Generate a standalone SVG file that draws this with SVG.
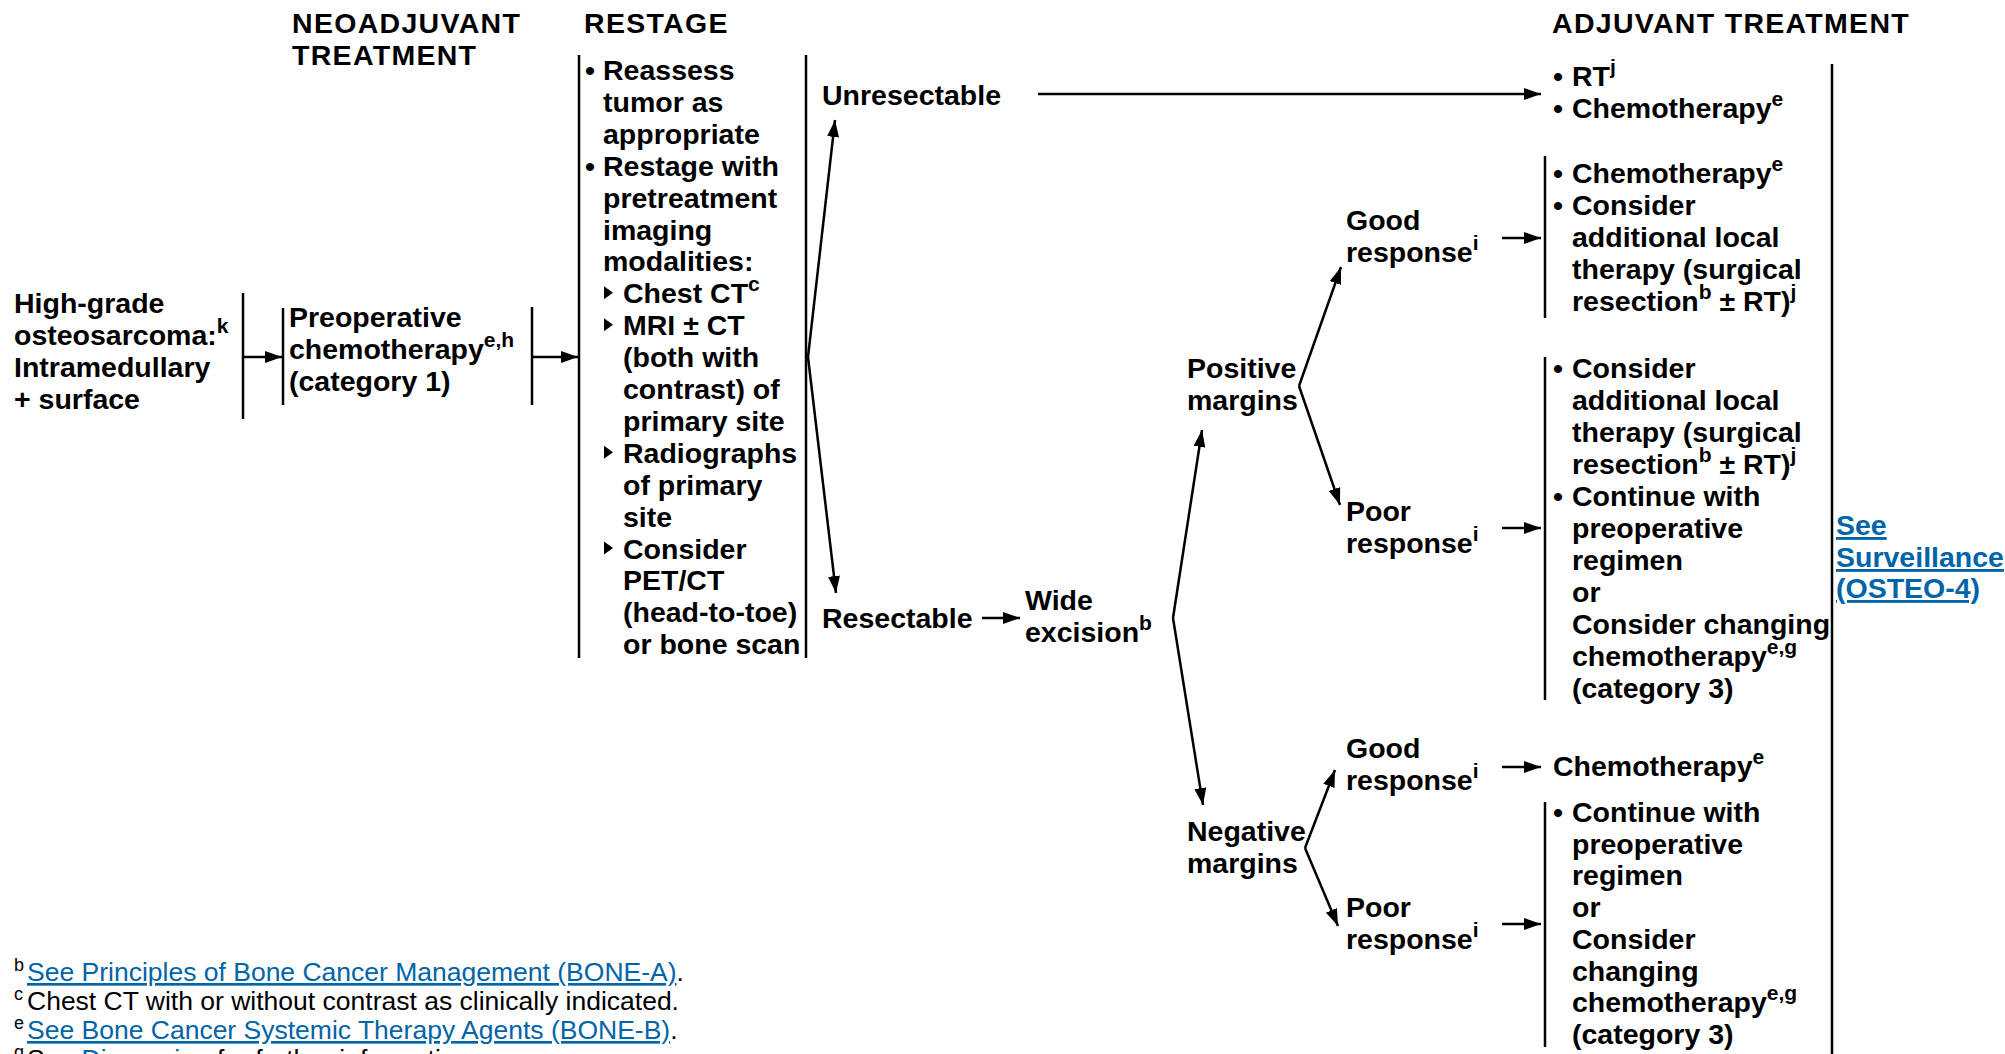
<svg xmlns="http://www.w3.org/2000/svg" width="2005" height="1054" viewBox="0 0 2005 1054">
<style>
text{font-family:"Liberation Sans",Arial,sans-serif;font-weight:bold;font-size:28.5px;fill:#000}
.h{letter-spacing:1.3px}
.sup{font-size:21px}
.fn{font-weight:normal;font-size:26.5px}
.fsup{font-size:18px}
.link{fill:#0064a8;text-decoration:underline}
.ln{stroke:#000;stroke-width:2.5;fill:none}
.arr{stroke:#000;stroke-width:2.5;fill:none;marker-end:url(#ah)}
.tri{fill:#000}
</style>
<defs>
<marker id="ah" markerUnits="userSpaceOnUse" markerWidth="17" markerHeight="12" refX="17" refY="6" orient="auto">
<path d="M0,0 L17,6 L0,12 z" fill="#000"/>
</marker>
</defs>
<rect width="2005" height="1054" fill="#fff"/>

<g id="headers">
<text class="h" x="292" y="33">NEOADJUVANT</text>
<text class="h" x="292" y="65">TREATMENT</text>
<text class="h" x="584" y="33">RESTAGE</text>
<text class="h" x="1552" y="33">ADJUVANT TREATMENT</text>
</g>

<g id="n-diagnosis">
<text><tspan x="14" y="313">High-grade</tspan><tspan x="14" y="345">osteosarcoma:<tspan class="sup" dy="-12">k</tspan></tspan><tspan x="14" y="377">Intramedullary</tspan><tspan x="14" y="409">+ surface</tspan></text>
<line class="ln" x1="243" y1="293" x2="243" y2="419"/>
</g>

<g id="n-preop">
<line class="ln" x1="283" y1="308" x2="283" y2="405"/>
<text><tspan x="289" y="327">Preoperative</tspan><tspan x="289" y="359">chemotherapy<tspan class="sup" dy="-12">e,h</tspan></tspan><tspan x="289" y="391">(category 1)</tspan></text>
<line class="ln" x1="532" y1="307" x2="532" y2="405"/>
</g>

<g id="n-restage">
<line class="ln" x1="579" y1="55" x2="579" y2="658"/>
<text>
<tspan x="585" y="80">•</tspan><tspan x="603" y="80">Reassess</tspan>
<tspan x="603" y="111.9">tumor as</tspan>
<tspan x="603" y="143.8">appropriate</tspan>
<tspan x="585" y="175.7">•</tspan><tspan x="603" y="175.7">Restage with</tspan>
<tspan x="603" y="207.6">pretreatment</tspan>
<tspan x="603" y="239.5">imaging</tspan>
<tspan x="603" y="271.4">modalities:</tspan>
<tspan x="623" y="303.3">Chest CT<tspan class="sup" dy="-12">c</tspan></tspan>
<tspan x="623" y="335.2">MRI ± CT</tspan>
<tspan x="623" y="367.1">(both with</tspan>
<tspan x="623" y="399">contrast) of</tspan>
<tspan x="623" y="430.9">primary site</tspan>
<tspan x="623" y="462.8">Radiographs</tspan>
<tspan x="623" y="494.7">of primary</tspan>
<tspan x="623" y="526.6">site</tspan>
<tspan x="623" y="558.5">Consider</tspan>
<tspan x="623" y="590.4">PET/CT</tspan>
<tspan x="623" y="622.3">(head-to-toe)</tspan>
<tspan x="623" y="654.2">or bone scan</tspan>
</text>
<polygon class="tri" points="604,286.3 613,292.8 604,299.3"/>
<polygon class="tri" points="604,318.2 613,324.7 604,331.2"/>
<polygon class="tri" points="604,445.8 613,452.3 604,458.8"/>
<polygon class="tri" points="604,541.5 613,548 604,554.5"/>
<line class="ln" x1="806" y1="55" x2="806" y2="658"/>
</g>

<g id="n-unresectable">
<text x="822" y="105">Unresectable</text>
</g>

<g id="n-resectable">
<text x="822" y="628">Resectable</text>
</g>

<g id="n-wide-excision">
<text><tspan x="1025" y="610">Wide</tspan><tspan x="1025" y="642">excision<tspan class="sup" dy="-12">b</tspan></tspan></text>
</g>

<g id="n-positive-margins">
<text><tspan x="1187" y="378">Positive</tspan><tspan x="1187" y="410">margins</tspan></text>
</g>

<g id="n-negative-margins">
<text><tspan x="1187" y="841">Negative</tspan><tspan x="1187" y="873">margins</tspan></text>
</g>

<g id="n-pos-good">
<text><tspan x="1346" y="230">Good</tspan><tspan x="1346" y="262">response<tspan class="sup" dy="-12">i</tspan></tspan></text>
</g>

<g id="n-pos-poor">
<text><tspan x="1346" y="521">Poor</tspan><tspan x="1346" y="553">response<tspan class="sup" dy="-12">i</tspan></tspan></text>
</g>

<g id="n-neg-good">
<text><tspan x="1346" y="758">Good</tspan><tspan x="1346" y="790">response<tspan class="sup" dy="-12">i</tspan></tspan></text>
</g>

<g id="n-neg-poor">
<text><tspan x="1346" y="917">Poor</tspan><tspan x="1346" y="949">response<tspan class="sup" dy="-12">i</tspan></tspan></text>
</g>

<g id="n-adj-unresectable">
<text>
<tspan x="1553" y="86">•</tspan><tspan x="1572" y="86">RT<tspan class="sup" dy="-12">j</tspan></tspan>
<tspan x="1553" y="118">•</tspan><tspan x="1572" y="118">Chemotherapy<tspan class="sup" dy="-12">e</tspan></tspan>
</text>
</g>

<g id="n-adj-pos-good">
<line class="ln" x1="1545" y1="156" x2="1545" y2="318"/>
<text>
<tspan x="1553" y="183">•</tspan><tspan x="1572" y="183">Chemotherapy<tspan class="sup" dy="-12">e</tspan></tspan>
<tspan x="1553" y="215">•</tspan><tspan x="1572" y="215">Consider</tspan>
<tspan x="1572" y="247">additional local</tspan>
<tspan x="1572" y="279">therapy (surgical</tspan>
<tspan x="1572" y="311">resection<tspan class="sup" dy="-12">b</tspan><tspan dy="12"> ± RT)</tspan><tspan class="sup" dy="-12">j</tspan></tspan>
</text>
</g>

<g id="n-adj-pos-poor">
<line class="ln" x1="1545" y1="357" x2="1545" y2="700"/>
<text>
<tspan x="1553" y="378">•</tspan><tspan x="1572" y="378">Consider</tspan>
<tspan x="1572" y="410">additional local</tspan>
<tspan x="1572" y="442">therapy (surgical</tspan>
<tspan x="1572" y="474">resection<tspan class="sup" dy="-12">b</tspan><tspan dy="12"> ± RT)</tspan><tspan class="sup" dy="-12">j</tspan></tspan>
<tspan x="1553" y="506">•</tspan><tspan x="1572" y="506">Continue with</tspan>
<tspan x="1572" y="538">preoperative</tspan>
<tspan x="1572" y="570">regimen</tspan>
<tspan x="1572" y="602">or</tspan>
<tspan x="1572" y="634">Consider changing</tspan>
<tspan x="1572" y="666">chemotherapy<tspan class="sup" dy="-12">e,g</tspan></tspan>
<tspan x="1572" y="698">(category 3)</tspan>
</text>
</g>

<g id="n-adj-neg-good">
<text x="1553" y="776">Chemotherapy<tspan class="sup" dy="-12">e</tspan></text>
</g>

<g id="n-adj-neg-poor">
<line class="ln" x1="1545" y1="802" x2="1545" y2="1047"/>
<text>
<tspan x="1553" y="822">•</tspan><tspan x="1572" y="822">Continue with</tspan>
<tspan x="1572" y="853.7">preoperative</tspan>
<tspan x="1572" y="885.4">regimen</tspan>
<tspan x="1572" y="917.1">or</tspan>
<tspan x="1572" y="948.8">Consider</tspan>
<tspan x="1572" y="980.5">changing</tspan>
<tspan x="1572" y="1012.2">chemotherapy<tspan class="sup" dy="-12">e,g</tspan></tspan>
<tspan x="1572" y="1043.9">(category 3)</tspan>
</text>
</g>

<g id="n-surveillance">
<line class="ln" x1="1832" y1="64" x2="1832" y2="1054"/>
<text class="link"><tspan x="1836" y="535">See</tspan><tspan x="1836" y="567">Surveillance</tspan><tspan x="1836" y="598">(OSTEO-4)</tspan></text>
</g>

<g id="connectors">
<line class="arr" x1="243" y1="357" x2="282" y2="357"/>
<line class="arr" x1="532" y1="357" x2="578" y2="357"/>
<line class="arr" x1="808" y1="357" x2="835" y2="120"/>
<line class="arr" x1="808" y1="357" x2="836" y2="593"/>
<line class="arr" x1="1038" y1="94" x2="1541" y2="94"/>
<line class="arr" x1="982" y1="618" x2="1020" y2="618"/>
<line class="arr" x1="1173" y1="618" x2="1202" y2="430"/>
<line class="arr" x1="1173" y1="618" x2="1203" y2="805"/>
<line class="arr" x1="1299" y1="386" x2="1341" y2="267"/>
<line class="arr" x1="1299" y1="386" x2="1340" y2="505"/>
<line class="arr" x1="1305" y1="848" x2="1335" y2="770"/>
<line class="arr" x1="1305" y1="848" x2="1338" y2="926"/>
<line class="arr" x1="1502" y1="238" x2="1541" y2="238"/>
<line class="arr" x1="1502" y1="528" x2="1541" y2="528"/>
<line class="arr" x1="1502" y1="767" x2="1541" y2="767"/>
<line class="arr" x1="1502" y1="924" x2="1541" y2="924"/>
</g>

<g id="footnotes">
<text class="fn" x="14" y="981"><tspan class="fsup" dy="-10">b</tspan><tspan x="27" dy="10" class="link">See Principles of Bone Cancer Management (BONE-A)</tspan><tspan>.</tspan></text>
<text class="fn" x="14" y="1010"><tspan class="fsup" dy="-10">c</tspan><tspan x="27" dy="10">Chest CT with or without contrast as clinically indicated.</tspan></text>
<text class="fn" x="14" y="1039"><tspan class="fsup" dy="-10">e</tspan><tspan x="27" dy="10" class="link">See Bone Cancer Systemic Therapy Agents (BONE-B)</tspan><tspan>.</tspan></text>
<text class="fn" x="14" y="1068"><tspan class="fsup" dy="-10">g</tspan><tspan x="27" dy="10">See </tspan><tspan class="link">Discussion</tspan><tspan> for further information.</tspan></text>
</g>
</svg>
